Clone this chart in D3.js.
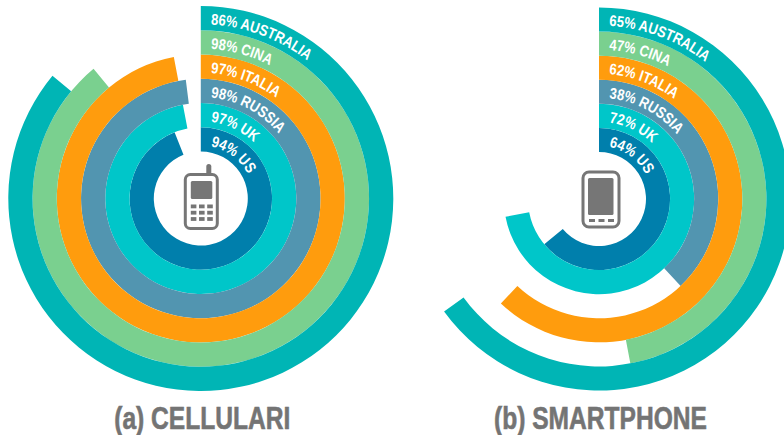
<!DOCTYPE html>
<html>
<head>
<meta charset="utf-8">
<script src="https://d3js.org/d3.v7.min.js"></script>
<style>
  html, body { margin: 0; padding: 0; background: #fff; }
  svg { display: block; }
  text { font-family: "Liberation Sans", sans-serif; font-weight: bold; }
</style>
</head>
<body>
<div id="chart"></div>
<script>
const width = 784
const height = 435

// inner ring first
const countries = ['US', 'UK', 'RUSSIA', 'ITALIA', 'CINA', 'AUSTRALIA']
const colors = ['#007fac', '#00c6c9', '#5295b0', '#ff9c0d', '#7ad08f', '#00b5b5']

const cellLabels = [94, 97, 98, 97, 98, 86]
// the original draws CINA shorter than its printed 98%
const cellDrawn = [94, 97, 98, 97, 89, 86]
const phoneLabels = [64, 72, 38, 62, 47, 65]
const phoneDrawn = [64, 72, 38, 62, 47, 65]

const svg = d3.select('#chart').append('svg')
  .attr('width', width)
  .attr('height', height)

const angle = d3.scaleLinear().domain([0, 100]).range([0, 2 * Math.PI])

// no condensed face installed, so squeeze the glyphs
function condense(selection, factor) {
  selection.each(function() {
    const len = this.getComputedTextLength()
    d3.select(this)
      .attr('textLength', len * factor)
      .attr('lengthAdjust', 'spacingAndGlyphs')
  })
}

function panel(id, cx, cy, r0, r1, labels, drawn, title) {
  const radius = d3.scaleBand().domain(countries).range([r0, r1])
  const colorScale = d3.scaleOrdinal().domain(countries).range(colors)
  const rows = countries.map((c, i) => ({ country: c, label: labels[i], drawn: drawn[i] }))

  const g = svg.append('g').attr('transform', `translate(${cx}, ${cy})`)

  const arc = d3.arc()
    .startAngle(0)
    .endAngle(d => angle(d.drawn))
    .innerRadius(d => radius(d.country))
    .outerRadius(d => radius(d.country) + radius.bandwidth())

  g.selectAll('.ring')
    .data(rows)
    .enter()
    .append('path')
    .attr('class', 'ring')
    .attr('fill', d => colorScale(d.country))
    .attr('d', arc)

  // baseline for each label, clockwise from 12 o'clock
  const baseline = d => radius(d.country) + 6
  g.selectAll('.label-path')
    .data(rows)
    .enter()
    .append('path')
    .attr('class', 'label-path')
    .attr('id', d => `${id}-${d.country}`)
    .attr('fill', 'none')
    .attr('d', d => `M0,${-baseline(d)}A${baseline(d)},${baseline(d)} 0 1 1 0,${baseline(d)}`)

  g.selectAll('.label')
    .data(rows)
    .enter()
    .append('text')
    .attr('class', 'label')
    .attr('fill', '#fff')
    .attr('font-size', 15.5)
    .append('textPath')
    .attr('href', d => `#${id}-${d.country}`)
    .attr('startOffset', 10)
    .text(d => `${d.label}% ${d.country}`)
    .call(condense, 0.84)

  svg.append('text')
    .attr('x', cx + 1.5)
    .attr('y', 428.5)
    .attr('text-anchor', 'middle')
    .attr('font-size', 31.5)
    .attr('fill', '#747474')
    .attr('stroke', '#747474')
    .attr('stroke-width', 0.6)
    .text(title)
    .call(condense, 0.78)

  return g
}

function cellIcon(g) {
  const grey = '#767676'
  g.append('path')
    .attr('d', 'M8,-24V-32')
    .attr('stroke', grey).attr('stroke-width', 5).attr('stroke-linecap', 'round')
  g.append('rect')
    .attr('x', -15.5).attr('y', -24).attr('width', 32).attr('height', 54).attr('rx', 5)
    .attr('fill', '#fff').attr('stroke', grey).attr('stroke-width', 3)
  g.append('rect')
    .attr('x', -10).attr('y', -17.5).attr('width', 21.5).attr('height', 18).attr('rx', 1.5)
    .attr('fill', grey)
  d3.range(9).forEach(i => {
    g.append('rect')
      .attr('x', -10 + (i % 3) * 8.2).attr('y', 6 + Math.floor(i / 3) * 6.3)
      .attr('width', 5.6).attr('height', 3.8)
      .attr('fill', grey)
  })
}

function phoneIcon(g) {
  const grey = '#767676'
  g.append('rect')
    .attr('x', -16).attr('y', -27).attr('width', 36).attr('height', 55).attr('rx', 6)
    .attr('fill', '#fff').attr('stroke', grey).attr('stroke-width', 3)
  g.append('rect')
    .attr('x', -11).attr('y', -21).attr('width', 25.5).attr('height', 37).attr('rx', 1.5)
    .attr('fill', grey)
  d3.range(3).forEach(i => {
    g.append('rect')
      .attr('x', -10 + i * 9.5).attr('y', 20)
      .attr('width', 6).attr('height', 3)
      .attr('fill', grey)
  })
}

const a = panel('a', 200.8, 198.5, 47, 192.5, cellLabels, cellDrawn, '(a) CELLULARI')
const b = panel('b', 599, 199, 47, 191.5, phoneLabels, phoneDrawn, '(b) SMARTPHONE')
cellIcon(a)
phoneIcon(b)
</script>
</body>
</html>
